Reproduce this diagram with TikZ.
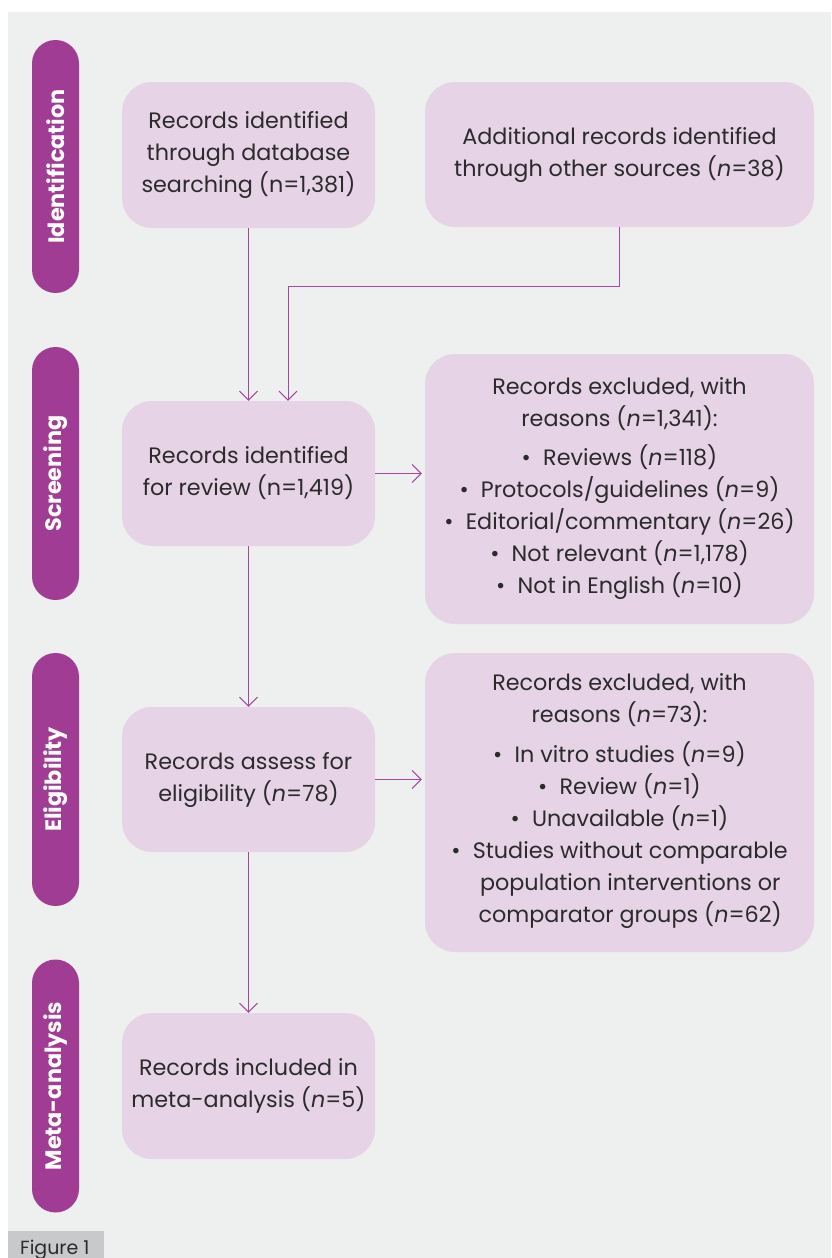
\documentclass[tikz,border=0pt]{standalone}
\usepackage{fontspec}
\setmainfont{Poppins}
\usetikzlibrary{arrows.meta}
\definecolor{panel}{HTML}{EEF0EF}
\definecolor{boxfill}{HTML}{E6D3E6}
\definecolor{pillc}{HTML}{A03C93}
\definecolor{linec}{HTML}{A846A0}
\definecolor{textc}{HTML}{2B2B2B}
\definecolor{figgray}{HTML}{C8C9CB}
\begin{document}
\begin{tikzpicture}[x=1pt,y=-1pt,
  box/.style={fill=boxfill, rounded corners=30pt, inner sep=0pt, align=center,
    text=textc, font=\fontsize{22.3}{32}\selectfont},
  pill/.style={fill=pillc, rounded corners=23.5pt, minimum width=253pt, minimum height=47pt,
    inner sep=0pt, text=white, font=\fontsize{22.3}{25}\selectfont\bfseries, rotate=90},
  arr/.style={draw=linec, line width=1pt, -{Straight Barb[length=9pt,width=18pt]}}]
\useasboundingbox (0,0) rectangle (831,1258);
\fill[white] (0,0) rectangle (831,1258);
\fill[panel] (8,12) rectangle (831,1258);
\fill[figgray] (8,1231) rectangle (104,1258);
\node[anchor=base west, inner sep=0pt, text=textc, font=\fontsize{19}{22}\selectfont] (fig) at (20,1254) {Figure 1};

% stage pills
\node[pill] (p1) at (55.5,166.5) {Identification};
\node[pill] (p2) at (55.5,473.5) {Screening};
\node[pill] (p3) at (55.5,779.5) {Eligibility};
\node[pill] (p4) at (55.5,1086) {Meta-analysis};

% boxes
\node[box, minimum width=253pt, minimum height=146pt] (b1) at (248.5,155)
  {Records identified\\through database\\searching (n=1,381)};
\node[box, minimum width=389pt, minimum height=145pt] (add) at (619.5,154.5)
  {Additional records identified\\through other sources (\textit{n}=38)};
\node[box, minimum width=253pt, minimum height=145pt] (b2) at (248.5,473.5)
  {Records identified\\for review (n=1,419)};
\node[box, minimum width=389pt, minimum height=270pt] (ex1) at (619.5,489)
  {Records excluded, with\\reasons (\textit{n}=1,341):\\[7pt]
   \textbullet\hspace{0.55em}Reviews (\textit{n}=118)\\
   \textbullet\hspace{0.55em}Protocols/guidelines (\textit{n}=9)\\
   \textbullet\hspace{0.55em}Editorial/commentary (\textit{n}=26)\\
   \textbullet\hspace{0.55em}Not relevant (\textit{n}=1,178)\\
   \textbullet\hspace{0.55em}Not in English (\textit{n}=10)};
\node[box, minimum width=253pt, minimum height=145pt] (b3) at (248.5,779.5)
  {Records assess for\\eligibility (\textit{n}=78)};
\node[box, minimum width=389pt, minimum height=299pt] (ex2) at (619.5,802.5)
  {Records excluded, with\\reasons (\textit{n}=73):\\[8pt]
   \textbullet\hspace{0.55em}In vitro studies (\textit{n}=9)\\
   \textbullet\hspace{0.55em}Review (\textit{n}=1)\\
   \textbullet\hspace{0.55em}Unavailable (\textit{n}=1)\\
   \textbullet\hspace{0.55em}\begin{tabular}[t]{@{}c@{}}Studies without comparable\\population interventions or\\comparator groups (\textit{n}=62)\end{tabular}};
\node[box, minimum width=253pt, minimum height=146pt] (b4) at (248.5,1086)
  {Records included in\\meta-analysis (\textit{n}=5)};

% connectors
\coordinate (elbow) at (288,286);
\draw[arr] (b1.south) -- (b2.north);
\draw[arr] (add.south) |- (elbow) -- (elbow |- b2.north);
\draw[arr, shorten >=3pt] (b2.east) -- (b2.east -| ex1.west);
\draw[arr] (b2.south) -- (b3.north);
\draw[arr, shorten >=3pt] (b3.east) -- (b3.east -| ex2.west);
\draw[arr] (b3.south) -- (b4.north);
\end{tikzpicture}
\end{document}
